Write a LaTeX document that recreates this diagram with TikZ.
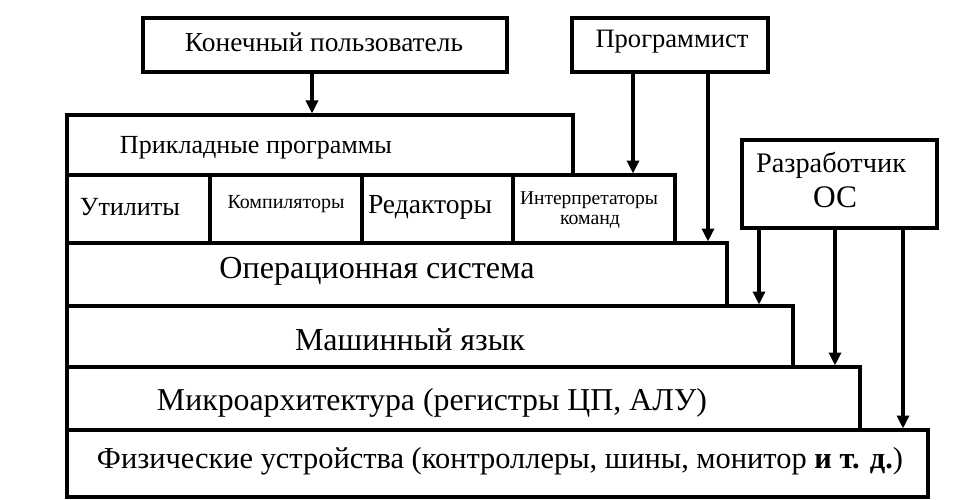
\documentclass[tikz,border=0pt]{standalone}
\usepackage{fontspec}
\setmainfont{Liberation Serif}
\usetikzlibrary{arrows.meta,calc}
\newcommand{\fw}[2]{\resizebox{#1pt}{!}{#2}}
\begin{document}
\begin{tikzpicture}[x=1pt,y=-1pt,
  box/.style={draw=black, line width=3.5pt, inner sep=0pt, outer sep=0pt, anchor=north west, fill=white},
  txt/.style={inner sep=0pt, anchor=center, font=\fontsize{20}{24}\selectfont},
  arr/.style={line width=3.5pt, -{Triangle[length=13pt,width=12pt]}, shorten >=1.5pt}]
\useasboundingbox[fill=white] (0,0) rectangle (974,500);
% boxes
\node[box, minimum width=364pt, minimum height=54pt] (user) at (143,18) {};
\node[box, minimum width=196pt, minimum height=54pt] (prog) at (572,18) {};
\node[box, minimum width=195pt, minimum height=88pt] (dev) at (742,140) {};
\node[box, minimum width=861pt, minimum height=67pt] (phys) at (67,430) {};
\node[box, minimum width=793pt, minimum height=63pt] (micro) at (67,367) {};
\node[box, minimum width=726pt, minimum height=61pt] (ml) at (67,306) {};
\node[box, minimum width=660pt, minimum height=63pt] (os) at (67,243) {};
\node[box, minimum width=506pt, minimum height=60pt] (app) at (67,115) {};
\node[box, minimum width=143pt, minimum height=68pt] (util) at (67,175) {};
\node[box, minimum width=152pt, minimum height=68pt] (comp) at (210,175) {};
\node[box, minimum width=151pt, minimum height=68pt] (edit) at (362,175) {};
\node[box, minimum width=162pt, minimum height=68pt] (interp) at (513,175) {};
% texts
\node[txt] (tuser) at (324,42) {\fw{278}{Конечный пользователь}};
\node[txt] (tprog) at (672,42) {\fw{153}{Программист}};
\node[txt] (tdev1) at (831,165) {\fw{150}{Разработчик}};
\node[txt] (tdev2) at (835,197) {\fw{44}{ОС}};
\node[txt] (tapp) at (256,148) {\fw{272}{Прикладные программы}};
\node[txt] (tutil) at (130,207) {\fw{100}{Утилиты}};
\node[txt] (tcomp) at (286,204) {\fw{117}{Компиляторы}};
\node[txt] (tedit) at (430,207) {\fw{124}{Редакторы}};
\node[txt] (tint1) at (589,200) {\fw{138}{Интерпретаторы}};
\node[txt] (tint2) at (590,222) {\fw{60}{команд}};
\node[txt] (tos) at (377,271) {\fw{315}{Операционная система}};
\node[txt] (tml) at (410,340) {\fw{230}{Машинный язык}};
\node[txt] (tmicro) at (432,403) {\fw{550}{Микроархитектура (регистры ЦП, АЛУ)}};
\node[txt] (tphys) at (500,461) {\fw{806}{Физические устройства (контроллеры, шины, монитор \textbf{и т. д.})}};
% arrows
\draw[arr] ([xshift=-13pt]user.south) -- ([xshift=-13pt]user.south |- app.north);
\draw[arr] ([xshift=-37pt]prog.south) -- ([xshift=-37pt]prog.south |- interp.north);
\draw[arr] ([xshift=38pt]prog.south) -- ([xshift=38pt]prog.south |- os.north);
\draw[arr] ([xshift=-80.5pt]dev.south) -- ([xshift=-80.5pt]dev.south |- ml.north);
\draw[arr] ([xshift=-4.5pt]dev.south) -- ([xshift=-4.5pt]dev.south |- micro.north);
\draw[arr] ([xshift=63.5pt]dev.south) -- ([xshift=63.5pt]dev.south |- phys.north);
\end{tikzpicture}
\end{document}
